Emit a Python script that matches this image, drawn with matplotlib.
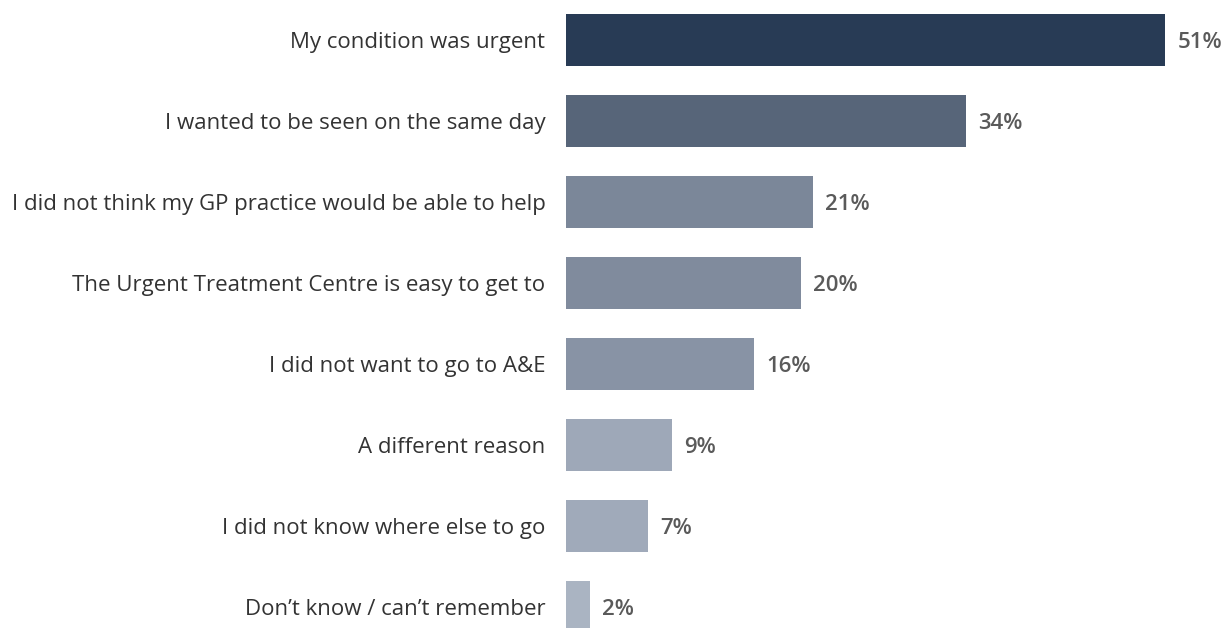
import matplotlib
matplotlib.use("Agg")
import matplotlib.pyplot as plt

# Reasons for attending the Urgent Treatment Centre
reasons = [
    "My condition was urgent",
    "I wanted to be seen on the same day",
    "I did not think my GP practice would be able to help",
    "The Urgent Treatment Centre is easy to get to",
    "I did not want to go to A&E",
    "A different reason",
    "I did not know where else to go",
    "Don\u2019t know / can\u2019t remember",
]
percentages = [51, 34, 21, 20, 16, 9, 7, 2]
barColours = ["#283b55", "#576579", "#7b8799", "#808b9d", "#8893a5",
              "#9ea8b8", "#a0aaba", "#aab4c2"]

plt.rcParams["font.family"] = ["Open Sans", "DejaVu Sans"]

fig = plt.figure(figsize=(12.26, 6.28), dpi=100)
ax = fig.add_axes([566 / 1226, 0, 1 - 566 / 1226, 1])

ypos = list(range(len(reasons)))
ax.barh(ypos, percentages, height=0.64, color=barColours)

for y, v in zip(ypos, percentages):
    ax.text(v + 1.05, y, f"{v}%", va="center_baseline", ha="left",
            fontsize=16, fontweight="semibold", color="#5a5a5a")
    ax.text(-1.75, y, reasons[y], va="center_baseline", ha="right",
            fontsize=16, color="#333333")

ax.set_xlim(0, 660 / 11.75)
ax.set_ylim(7 + 21 / 81, -40 / 81)
ax.axis("off")

fig.savefig("out.png", dpi=100, facecolor="white")
